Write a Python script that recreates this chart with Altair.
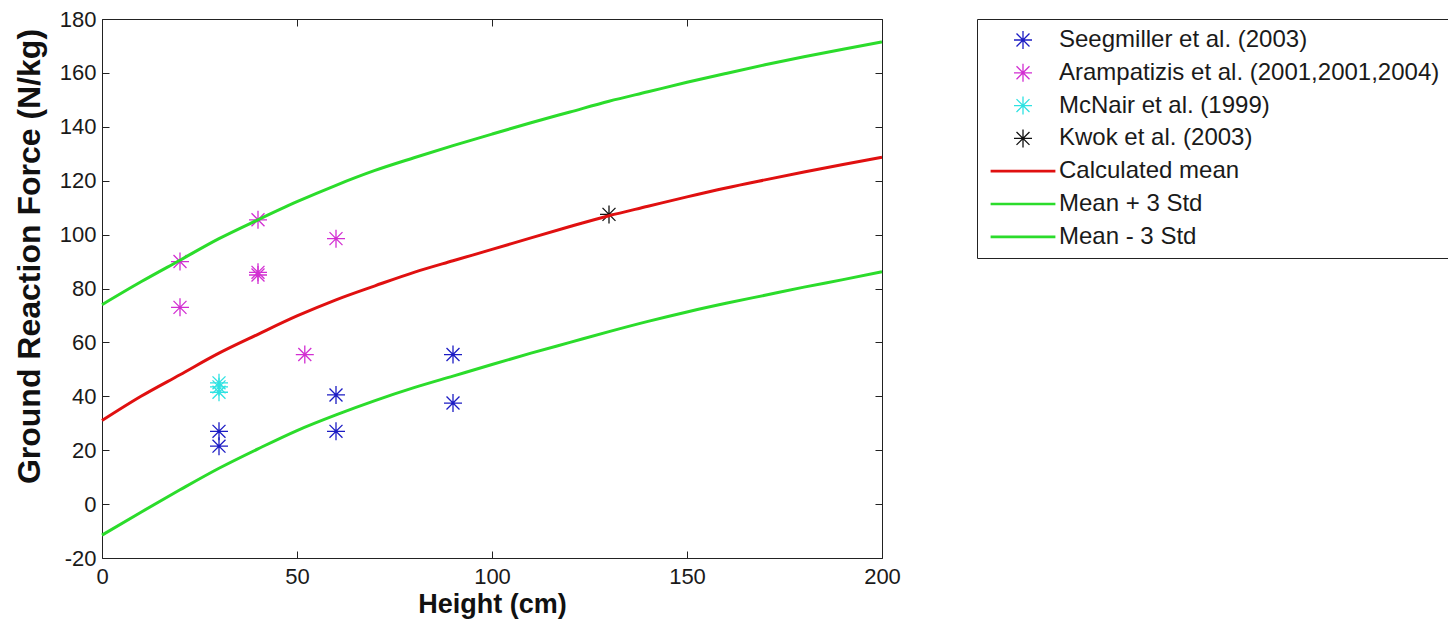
import altair as alt
import pandas as pd

# ---------------- data ----------------
series_names = [
    "Seegmiller et al. (2003)",
    "Arampatizis et al. (2001,2001,2004)",
    "McNair et al. (1999)",
    "Kwok et al. (2003)",
    "Calculated mean",
    "Mean + 3 Std",
    "Mean - 3 Std",
]
series_colors = ["#1c1cc4", "#d22ed2", "#2ee2e2", "#111111", "#e01010", "#2bdc2b", "#2bdc2b"]

seeg_x = [30, 30, 60, 60, 90, 90]
seeg_y = [27, 21.5, 40.5, 27, 55.5, 37.5]
aramp_x = [20, 20, 40, 40, 40, 60, 52]
aramp_y = [90, 73, 105.5, 85, 86, 98.5, 55.5]
mcnair_x = [30, 30, 30]
mcnair_y = [45, 43.5, 41.5]
kwok_x = [130]
kwok_y = [107.5]

height_cm = [0, 10, 20, 30, 40, 50, 60, 70, 80, 90, 100,
             110, 120, 130, 140, 150, 160, 170, 180, 190, 200]
mean_grf = [31, 40, 48, 56, 63, 69.8, 75.8, 81, 86, 90.3, 94.5,
            98.8, 103, 107, 110.5, 114, 117.3, 120.3, 123.2, 126, 128.7]
upper_grf = [74, 82.5, 90.5, 98.5, 105.5, 112.2, 118.3, 123.8, 128.5, 133, 137.3,
             141.5, 145.5, 149.5, 153, 156.5, 159.8, 163, 166, 168.8, 171.5]
lower_grf = [-11.5, -3, 5.3, 13.3, 20.5, 27.3, 33.1, 38.4, 43.2, 47.5, 51.8,
             56, 60, 64, 67.8, 71.3, 74.5, 77.5, 80.5, 83.3, 86.2]

x_ticks = [0, 50, 100, 150, 200]
y_ticks = [-20, 0, 20, 40, 60, 80, 100, 120, 140, 160, 180]

# ---------------- tables ----------------
pts = pd.concat([
    pd.DataFrame({"x": seeg_x, "y": seeg_y, "series": series_names[0]}),
    pd.DataFrame({"x": aramp_x, "y": aramp_y, "series": series_names[1]}),
    pd.DataFrame({"x": mcnair_x, "y": mcnair_y, "series": series_names[2]}),
    pd.DataFrame({"x": kwok_x, "y": kwok_y, "series": series_names[3]}),
], ignore_index=True)

mean_df = pd.DataFrame({"x": height_cm, "y": mean_grf, "series": series_names[4]})
std_df = pd.concat([
    pd.DataFrame({"x": height_cm, "y": upper_grf, "series": series_names[5]}),
    pd.DataFrame({"x": height_cm, "y": lower_grf, "series": series_names[6]}),
], ignore_index=True)

# ---------------- styling ----------------
FONT = "Liberation Sans"
ASTER = "M-1,0L1,0M0,-1L0,1M-0.72,-0.72L0.72,0.72M-0.72,0.72L0.72,-0.72"
LEGLINE = "M-3.6,-0.08L3.6,-0.08M-3.6,0.08L3.6,0.08"
shape_range = [ASTER, ASTER, ASTER, ASTER, LEGLINE, LEGLINE, LEGLINE]

xscale = alt.Scale(domain=[0, 200], nice=False, zero=False)
yscale = alt.Scale(domain=[-20, 180], nice=False, zero=False)
color_scale = alt.Scale(domain=series_names, range=series_colors)
shape_scale = alt.Scale(domain=series_names, range=shape_range)

main_x = alt.Axis(orient="bottom", values=x_ticks, domain=False, ticks=False, tickSize=0,
                  grid=False, labelFontSize=22, labelFont=FONT, labelColor="#1a1a1a",
                  labelPadding=8, labelFlush=False, labelOverlap=False,
                  labelExpr="'' + datum.value",
                  title="Height (cm)", titleFontSize=27, titleFont=FONT,
                  titleFontWeight="bold", titleColor="#111111", titlePadding=4)
main_y = alt.Axis(orient="left", values=y_ticks, domain=False, ticks=False, tickSize=0,
                  grid=False, labelFontSize=22, labelFont=FONT, labelColor="#1a1a1a",
                  labelPadding=6, labelFlush=False, labelOverlap=False,
                  labelExpr="'' + datum.value",
                  title="Ground Reaction Force (N/kg)", titleFontSize=32, titleFont=FONT,
                  titleFontWeight="bold", titleColor="#111111", titlePadding=13,
                  titleY=237, titleAlign="center")


def tick_axis(orient, values):
    return alt.Axis(orient=orient, offset=-7, values=values, domain=False, labels=False,
                    ticks=True, tickSize=7, tickColor="#222222", tickWidth=1,
                    grid=False, title=None)


leg = alt.Legend(title=None)

points = alt.Chart(pts).mark_point(filled=False, size=324, strokeWidth=1.3, opacity=1).encode(
    x=alt.X("x:Q", scale=xscale, axis=tick_axis("bottom", x_ticks)),
    y=alt.Y("y:Q", scale=yscale, axis=tick_axis("left", y_ticks)),
    color=alt.Color("series:N", scale=color_scale, legend=leg),
    shape=alt.Shape("series:N", scale=shape_scale, legend=leg),
)

std_lines = alt.Chart(std_df).mark_line(strokeWidth=3, interpolate="monotone").encode(
    x=alt.X("x:Q", scale=xscale, axis=main_x),
    y=alt.Y("y:Q", scale=yscale, axis=main_y),
    color=alt.Color("series:N", scale=color_scale, legend=leg),
    detail="series:N",
)

mean_line = alt.Chart(mean_df).mark_line(strokeWidth=3, interpolate="monotone").encode(
    x=alt.X("x:Q", scale=xscale, axis=tick_axis("top", x_ticks)),
    y=alt.Y("y:Q", scale=yscale, axis=tick_axis("right", y_ticks)),
    color=alt.Color("series:N", scale=color_scale, legend=leg),
)

chart = (
    alt.layer(points, std_lines, mean_line)
    .resolve_axis(x="independent", y="independent")
    .properties(
        width=780,
        height=539,
        padding={"left": 94, "top": 11, "right": 566, "bottom": 62},
        autosize=alt.AutoSizeParams(type="none"),
        background="white",
    )
    .configure(font=FONT)
    .configure_view(stroke="#222222", strokeWidth=1)
    .configure_legend(
        orient="none", legendX=875, legendY=0, padding=9, rowPadding=8.8,
        labelFontSize=24, labelFont=FONT, labelColor="#1a1a1a", labelLimit=600,
        labelOffset=24, symbolOffset=25, symbolSize=324, symbolStrokeWidth=1.3,
        strokeColor="#222222", fillColor="white", cornerRadius=0,
    )
)

chart.save("out.html", embed_options={"renderer": "svg", "actions": False})
